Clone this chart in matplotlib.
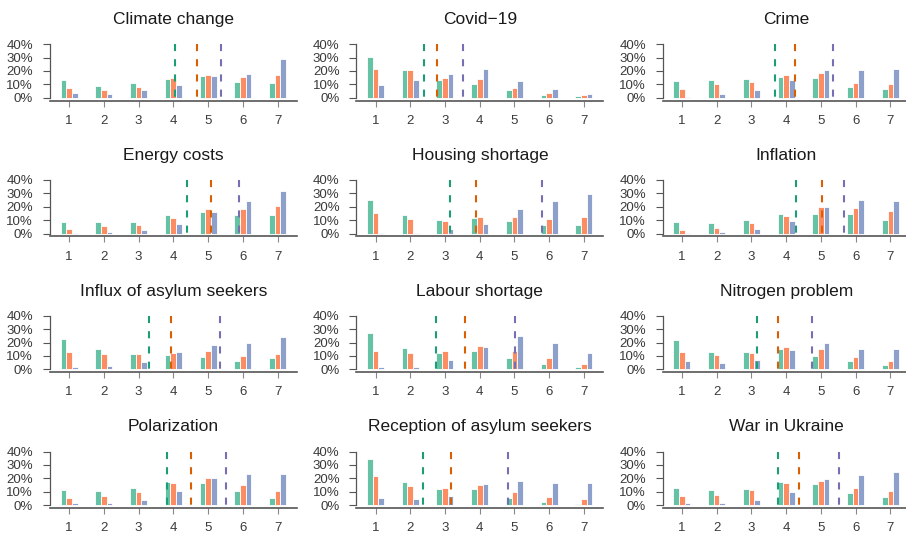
import matplotlib.pyplot as plt
import numpy as np

plt.rcParams['font.family'] = ['Liberation Sans', 'DejaVu Sans']

# panel titles, in reading order (3 columns x 4 rows)
topics = ['Climate change', 'Covid\u221219', 'Crime',
          'Energy costs', 'Housing shortage', 'Inflation',
          'Influx of asylum seekers', 'Labour shortage', 'Nitrogen problem',
          'Polarization', 'Reception of asylum seekers', 'War in Ukraine']

scale = [1, 2, 3, 4, 5, 6, 7]

# share (%) answering each scale point, first group (green)
pct_a = [
    [12.9, 8.7, 10.7, 13.9, 15.9, 11.7, 10.7],
    [30.3, 20.9, 12.9, 10.4, 5.7, 2.2, 1.2],
    [12.4, 13.4, 13.9, 15.4, 14.4, 8.2, 6.7],
    [8.9, 8.4, 8.6, 13.6, 16.0, 13.6, 13.6],
    [25.4, 13.6, 10.4, 11.6, 9.6, 6.7, 6.2],
    [8.4, 8.1, 10.1, 14.8, 14.8, 14.8, 10.4],
    [22.3, 15.3, 11.5, 10.5, 9.0, 6.5, 8.5],
    [27.0, 15.8, 12.3, 13.8, 8.5, 4.0, 1.5],
    [22.0, 13.3, 13.3, 15.3, 10.0, 6.5, 3.5],
    [11.5, 10.3, 13.0, 17.0, 16.3, 10.8, 5.3],
    [34.3, 17.3, 12.3, 11.8, 5.3, 2.0, 1.0],
    [12.8, 11.0, 12.0, 17.0, 15.5, 9.0, 6.0],
]

# second group (orange)
pct_b = [
    [7.5, 6.0, 7.7, 14.7, 16.9, 15.4, 16.9],
    [21.6, 20.9, 14.4, 14.2, 7.2, 3.5, 1.7],
    [6.5, 10.2, 11.4, 16.6, 18.4, 11.2, 10.4],
    [3.0, 5.4, 6.7, 11.4, 18.0, 18.0, 20.5],
    [15.6, 10.9, 9.4, 12.1, 12.1, 10.9, 12.1],
    [2.5, 4.2, 7.9, 12.8, 20.0, 18.8, 17.0],
    [12.8, 11.8, 11.8, 12.0, 13.5, 9.8, 11.5],
    [13.8, 12.3, 13.5, 17.3, 14.0, 8.3, 4.0],
    [12.8, 10.8, 12.3, 16.5, 15.0, 9.0, 6.3],
    [5.3, 6.5, 9.5, 16.5, 20.3, 15.0, 10.5],
    [21.5, 14.3, 12.5, 15.0, 9.8, 5.8, 4.5],
    [6.5, 7.5, 11.5, 16.5, 18.0, 12.8, 10.8],
]

# third group (blue)
pct_c = [
    [3.5, 3.0, 6.0, 9.4, 16.1, 17.6, 28.6],
    [9.7, 13.4, 17.6, 21.1, 12.7, 6.2, 2.7],
    [0.7, 2.5, 5.7, 13.2, 20.6, 20.4, 21.4],
    [0.7, 1.0, 2.5, 6.9, 16.3, 24.2, 31.9],
    [0.7, 0.7, 3.0, 6.9, 18.0, 24.2, 29.6],
    [0.7, 1.0, 3.0, 9.6, 20.0, 24.7, 24.0],
    [1.7, 2.2, 5.3, 12.8, 17.8, 19.5, 24.0],
    [1.5, 2.0, 7.0, 16.3, 25.0, 19.5, 12.3],
    [6.3, 5.0, 7.3, 14.3, 19.3, 15.5, 15.5],
    [1.5, 1.5, 3.8, 10.8, 20.0, 23.3, 23.3],
    [5.3, 4.8, 6.8, 15.5, 18.0, 16.5, 16.5],
    [1.5, 1.5, 4.0, 10.0, 19.5, 22.3, 25.0],
]

# group means (dashed lines)
mean_a = [4.05, 2.41, 3.68, 4.39, 3.13, 4.29, 3.29, 2.75, 3.15, 3.83, 2.38, 3.77]
mean_b = [4.69, 2.78, 4.26, 5.08, 3.89, 5.03, 3.92, 3.58, 3.77, 4.51, 3.16, 4.37]
mean_c = [5.37, 3.52, 5.36, 5.88, 5.79, 5.67, 5.35, 5.02, 4.75, 5.53, 4.82, 5.53]

bar_cols = ['#66C2A5', '#FC8D62', '#8DA0CB']
line_cols = ['#1B9E77', '#D95F02', '#7570B3']

W, H = 906, 534
fig = plt.figure(figsize=(W / 100, H / 100), dpi=100)

ybot, ytop = -2.2, 40
px_per_pct = 1.3375
bw = 0.163
x = np.array(scale)

for i, topic in enumerate(topics):
    r, c = divmod(i, 3)
    left_px = 50 + 306.4 * c
    zero_px = 97.7 + 135.8 * r
    top_px = zero_px - ytop * px_per_pct
    bot_px = zero_px - ybot * px_per_pct
    ax = fig.add_axes([left_px / W, 1 - bot_px / H, 247 / W, (bot_px - top_px) / H])

    for k, vals in enumerate([pct_a[i], pct_b[i], pct_c[i]]):
        ax.bar(x + (k - 1) * bw, vals, width=bw, color=bar_cols[k],
               edgecolor='white', linewidth=0.6, zorder=2)

    for k, m in enumerate([mean_a[i], mean_b[i], mean_c[i]]):
        ax.plot([m, m], [ytop, ybot], color=line_cols[k], lw=1.5,
                dashes=(3.4, 3.9), zorder=3, solid_capstyle='butt')

    ax.set_xlim(0.45, 7.56)
    ax.set_ylim(ybot, ytop)
    ax.set_xticks(scale)
    ax.set_yticks([0, 10, 20, 30, 40])
    ax.set_yticklabels([f'{v}%' for v in [0, 10, 20, 30, 40]])

    for s in ['top', 'right']:
        ax.spines[s].set_visible(False)
    ax.spines['left'].set_bounds(0, 40)
    ax.spines['left'].set_color('#555555')
    ax.spines['left'].set_linewidth(0.9)
    ax.spines['bottom'].set_color('#555555')
    ax.spines['bottom'].set_linewidth(1.2)

    ax.tick_params(axis='y', length=5.2, width=0.8, pad=7, color='#555555',
                   labelcolor='#3a3a3a', labelsize=9.5)
    ax.tick_params(axis='x', length=4.2, width=0.8, pad=6, color='#888888',
                   labelcolor='#3a3a3a', labelsize=9.5)

    ax.set_title(topic, fontsize=12.5, color='#1a1a1a', pad=14.5)

fig.savefig('out.png', dpi=100)
